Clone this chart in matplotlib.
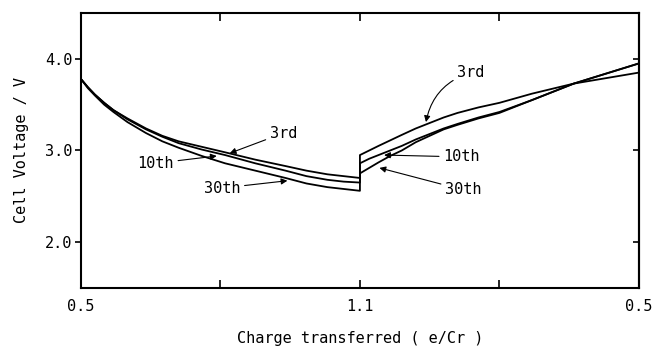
import numpy as np
import matplotlib
matplotlib.use("Agg")
import matplotlib.pyplot as plt

# charge transferred (e/Cr) during discharge, 0.5 -> 1.1
q_discharge = [0.50, 0.515, 0.53, 0.55, 0.57, 0.60, 0.64, 0.675, 0.71,
               0.76, 0.81, 0.875, 0.94, 0.985, 1.03, 1.065, 1.10]
v_dis_3rd = [3.78, 3.69, 3.61, 3.52, 3.44, 3.35, 3.24, 3.16, 3.10,
             3.04, 2.98, 2.90, 2.83, 2.78, 2.74, 2.72, 2.70]
v_dis_10th = [3.78, 3.69, 3.61, 3.52, 3.44, 3.34, 3.23, 3.15, 3.08,
              3.01, 2.95, 2.86, 2.78, 2.72, 2.68, 2.66, 2.65]
v_dis_30th = [3.78, 3.68, 3.60, 3.50, 3.42, 3.31, 3.19, 3.10, 3.03,
              2.94, 2.86, 2.78, 2.70, 2.64, 2.60, 2.58, 2.56]

# charge transferred (e/Cr) during charge, 1.1 -> 0.5
q_charge = [1.10, 1.08, 1.06, 1.035, 1.01, 0.98, 0.95, 0.92, 0.89,
            0.845, 0.80, 0.73, 0.64, 0.57, 0.50]
v_ch_3rd = [2.95, 3.00, 3.05, 3.11, 3.17, 3.24, 3.30, 3.36, 3.41,
            3.47, 3.52, 3.62, 3.73, 3.79, 3.85]
v_ch_10th = [2.86, 2.91, 2.95, 3.00, 3.05, 3.12, 3.18, 3.24, 3.29,
             3.36, 3.42, 3.55, 3.73, 3.84, 3.95]
v_ch_30th = [2.75, 2.81, 2.87, 2.94, 3.00, 3.09, 3.16, 3.23, 3.28,
             3.35, 3.41, 3.55, 3.73, 3.84, 3.95]

x_ticks = [0.5, 0.8, 1.1, 1.4, 1.7]
x_tick_labels = ["0.5", "", "1.1", "", "0.5"]
y_ticks = [2.0, 3.0, 4.0]
y_tick_labels = ["2.0", "3.0", "4.0"]

FONT = "DejaVu Sans Mono"


def unfold(q_dis, q_ch):
    # discharge runs left to right, charge is folded back after 1.1
    q_dis = np.asarray(q_dis)
    q_ch = np.asarray(q_ch)
    return np.concatenate([q_dis, 2.2 - q_ch])


def main():
    plt.rcParams["font.family"] = FONT
    plt.rcParams["font.size"] = 11

    fig = plt.figure(figsize=(6.58, 3.52), dpi=100)
    ax = fig.add_axes([0.123, 0.182, 0.848, 0.781])

    x = unfold(q_discharge, q_charge)
    for v_dis, v_ch in [(v_dis_3rd, v_ch_3rd),
                        (v_dis_10th, v_ch_10th),
                        (v_dis_30th, v_ch_30th)]:
        ax.plot(x, np.concatenate([v_dis, v_ch]), color="black", lw=1.3)

    ax.set_xlim(0.5, 1.7)
    ax.set_ylim(1.5, 4.5)

    ax.set_xticks(x_ticks)
    ax.set_xticklabels(x_tick_labels)
    ax.set_yticks(y_ticks)
    ax.set_yticklabels(y_tick_labels)
    ax.tick_params(axis="x", direction="in", length=6, width=1.2,
                   top=True, pad=8)
    ax.tick_params(axis="y", direction="out", length=4, width=1.2,
                   right=False, pad=2)
    secy = ax.secondary_yaxis("right")
    secy.set_yticks(y_ticks)
    secy.set_yticklabels([])
    secy.tick_params(direction="in", length=4, width=1.2)
    secy.spines["right"].set_linewidth(1.5)
    for s in ax.spines.values():
        s.set_linewidth(1.5)

    ax.set_xlabel("Charge transferred ( e/Cr )", labelpad=12)
    ax.set_ylabel("Cell Voltage / V", labelpad=12)

    arrow = dict(arrowstyle="-|>", color="black", lw=0.8,
                 mutation_scale=9, shrinkA=1, shrinkB=0)
    # discharge labels
    ax.annotate("3rd", xy=(0.820, 2.97), xytext=(0.906, 3.19),
                ha="left", va="center", arrowprops=arrow)
    ax.annotate("10th", xy=(0.792, 2.94), xytext=(0.700, 2.86),
                ha="right", va="center", arrowprops=arrow)
    ax.annotate("30th", xy=(0.944, 2.67), xytext=(0.843, 2.59),
                ha="right", va="center", arrowprops=arrow)
    # charge labels
    ax.annotate("3rd", xy=(1.242, 3.31), xytext=(1.309, 3.85),
                ha="left", va="center",
                arrowprops=dict(arrow, connectionstyle="arc3,rad=0.3"))
    ax.annotate("10th", xy=(1.152, 2.95), xytext=(1.279, 2.93),
                ha="left", va="center", arrowprops=arrow)
    ax.annotate("30th", xy=(1.142, 2.81), xytext=(1.283, 2.57),
                ha="left", va="center", arrowprops=arrow)

    fig.savefig("out.png", dpi=100)


if __name__ == "__main__":
    main()
